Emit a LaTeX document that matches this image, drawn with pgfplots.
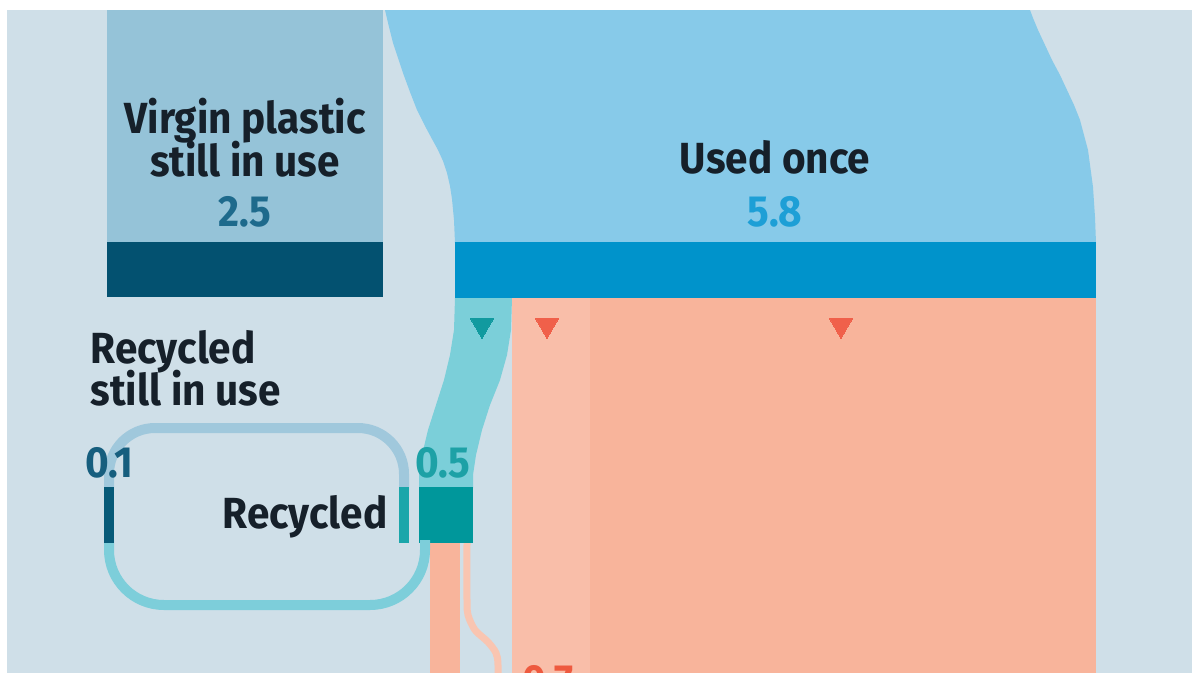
\documentclass[border=0pt]{standalone}
\usepackage{fontspec}
\setmainfont{Fira Sans}[FakeStretch=0.93]
\usepackage{pgfplots}
\pgfplotsset{compat=1.18}
\definecolor{bg}{HTML}{CFDFE8}
\definecolor{virginlight}{HTML}{95C3D8}
\definecolor{virgindark}{HTML}{035170}
\definecolor{usedlight}{HTML}{87CAE9}
\definecolor{useddark}{HTML}{0093CB}
\definecolor{teallight}{HTML}{7BCFD9}
\definecolor{tealdark}{HTML}{00979B}
\definecolor{salmon}{HTML}{F8B49B}
\definecolor{salmonlight}{HTML}{F9BEA9}
\definecolor{salmonline}{HTML}{F9C5B1}
\definecolor{redmark}{HTML}{F0604A}
\definecolor{tealmark}{HTML}{119A9F}
\definecolor{looptop}{HTML}{A0C8DC}
\definecolor{loopbot}{HTML}{7DCEDA}
\definecolor{bar01}{HTML}{075A78}
\definecolor{smallteal}{HTML}{1AA6AA}
\definecolor{txt}{HTML}{16202A}
\definecolor{c25}{HTML}{1E6A8C}
\definecolor{c58}{HTML}{1D9FD6}
\definecolor{c01}{HTML}{165E7E}
\definecolor{c05}{HTML}{1DA1A6}
\definecolor{c07}{HTML}{EE5A3F}
\tikzset{lbl/.style={font=\fontsize{12.4}{14}\selectfont\bfseries, text=txt, inner sep=0pt}}
\begin{document}
\begin{tikzpicture}
\path[use as bounding box] (0,0) rectangle (119.2mm,67.2mm);
\clip (0,0) rectangle (119.2mm,67.2mm);
\fill[white] (-1mm,-1mm) rectangle (121mm,69mm);
\begin{axis}[
  scale only axis, width=119.2mm, height=67.2mm,
  xmin=0, xmax=1192, ymin=0, ymax=672, y dir=reverse,
  hide axis, clip=false,
]
% background panel
\addplot[fill=bg, draw=none, forget plot] coordinates {(7,10)(1230,10)(1230,710)(7,710)} -- cycle;
% virgin plastic still in use
\addplot[fill=virginlight, draw=none, forget plot] coordinates {(107,10)(383,10)(383,242)(107,242)} -- cycle;
\addplot[fill=virgindark, draw=none, forget plot] coordinates {(107,242)(383,242)(383,297)(107,297)} -- cycle;
% used once flow
\addplot[fill=usedlight, draw=none, forget plot] coordinates {
 (385,10)(389,27)(393,43)(398,58)(403,73)(410,92)(417,110)(425,126)(432,139)(438,150)(443,161)(447,173)(450,186)(452,199)(454,220)(455,243)
 (1096,243)(1095,217)(1093,187)(1088,150)(1080,120)(1074,105)(1067,90)(1060,75)(1052,60)(1045,45)(1038,30)(1033,18)(1030,10)} -- cycle;
\addplot[fill=useddark, draw=none, forget plot] coordinates {(455,242)(1096,242)(1096,298)(455,298)} -- cycle;
% salmon (not recycled)
\addplot[fill=salmon, draw=none, forget plot] coordinates {(512,298)(1096,298)(1096,710)(512,710)} -- cycle;
\addplot[fill=salmonlight, draw=none, forget plot] coordinates {(512,298)(590,298)(590,710)(512,710)} -- cycle;
% recycled flow
\addplot[fill=teallight, draw=none, forget plot] coordinates {
 (455,298)(454,330)(450,355)(444,380)(436,405)(428,430)(422,455)(419,475)(419,488)
 (473,488)(473,475)(476,455)(482,430)(490,405)(500,380)(507,355)(511,330)(512,298)} -- cycle;
\addplot[fill=tealdark, draw=none, forget plot] coordinates {(419,487)(473,487)(473,543)(419,543)} -- cycle;
% flows below recycled block
\addplot[fill=salmon, draw=none, forget plot] coordinates {(430,543)(460,543)(460,710)(430,710)} -- cycle;
\addplot[draw=salmonline, line width=0.7mm, smooth, forget plot] coordinates {(467,543)(467,600)(468,615)(475,630)(488,642)(496,653)(498,665)(498,700)};
% recycled loop
\addplot[draw=looptop, line width=1mm, rounded corners=4.6mm, forget plot] coordinates {(109,490)(109,428)(404,428)(404,490)};
\addplot[draw=loopbot, line width=1mm, rounded corners=5.5mm, forget plot] coordinates {(109,540)(109,605)(425,605)(425,540)};
\addplot[fill=bar01, draw=none, forget plot] coordinates {(104,487)(114,487)(114,543)(104,543)} -- cycle;
\addplot[fill=smallteal, draw=none, forget plot] coordinates {(399,487)(409,487)(409,543)(399,543)} -- cycle;
% markers
\addplot[color=tealmark, only marks, mark=triangle*, mark size=3.8pt, mark options={rotate=180, fill=tealmark, draw=tealmark, line width=0pt}, forget plot] coordinates {(482,325)};
\addplot[color=redmark, only marks, mark=triangle*, mark size=3.8pt, mark options={rotate=180, fill=redmark, draw=redmark, line width=0pt}, forget plot] coordinates {(547,325)(841,325)};
% labels
\node[lbl, anchor=base] at (axis cs:245,133) {Virgin plastic};
\node[lbl, anchor=base] at (axis cs:245,176) {still in use};
\node[lbl, text=c25, anchor=base] at (axis cs:245,226) {2.5};
\node[lbl, anchor=base] at (axis cs:775,173) {Used once};
\node[lbl, text=c58, anchor=base] at (axis cs:775,226) {5.8};
\node[lbl, anchor=base west] at (axis cs:90,363) {Recycled};
\node[lbl, anchor=base west] at (axis cs:90,405) {still in use};
\node[lbl, anchor=base] at (axis cs:305,528) {Recycled};
\node[lbl, text=c01, anchor=base] at (axis cs:109,477) {0.1};
\node[lbl, text=c05, anchor=base] at (axis cs:443,477) {0.5};
\node[lbl, text=c07, anchor=base] at (axis cs:548,695) {0.7};
\end{axis}
\end{tikzpicture}
\end{document}
